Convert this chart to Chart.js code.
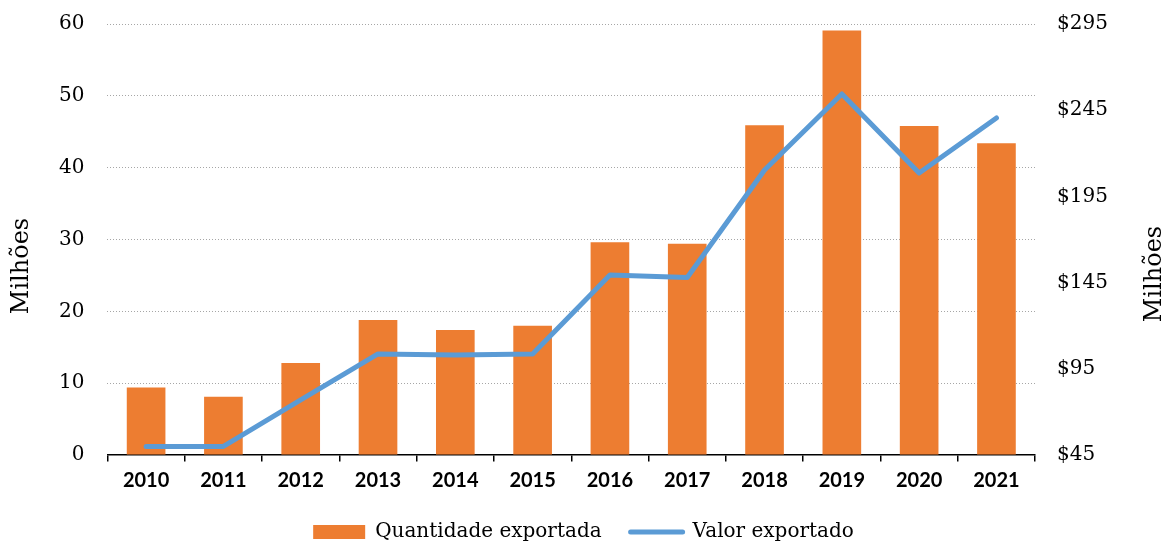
<!DOCTYPE html>
<html>
<head>
<meta charset="utf-8">
<script src="https://cdn.jsdelivr.net/npm/chart.js@4"></script>
<style>
html,body{margin:0;padding:0;background:#fff;overflow:hidden;}
canvas{display:block;}
</style>
</head>
<body>
<canvas id="c" width="1171" height="545"></canvas>
<script>
const categories = ['2010','2011','2012','2013','2014','2015','2016','2017','2018','2019','2020','2021'];
const quantidade = [9.4, 8.1, 12.8, 18.8, 17.4, 18.0, 29.6, 29.4, 45.9, 59.1, 45.8, 43.4];
const valor = [50, 50, 77, 103.6, 103, 103.6, 149.4, 148, 210.3, 254.4, 208.6, 240.5];
const leftTicks = [0, 10, 20, 30, 40, 50, 60];
const rightTicks = [45, 95, 145, 195, 245, 295];
const seriesNames = ['Quantidade exportada', 'Valor exportado'];
const axisTitle = 'Milhões';

const ORANGE = '#ED7D31';
const BLUE = '#5B9BD5';
const SERIF = 'DejaVu Serif';
const CLEAR = 'rgba(0,0,0,0)';

const titlePlugin = {
  id: 'sideTitles',
  afterDraw(chart) {
    const ctx = chart.ctx;
    [[22, 266], [1155, 274]].forEach(([x, y]) => {
      ctx.save();
      ctx.font = '24px "' + SERIF + '"';
      ctx.fillStyle = '#000';
      ctx.textAlign = 'center';
      ctx.textBaseline = 'middle';
      ctx.translate(x, y);
      ctx.rotate(-Math.PI / 2);
      ctx.fillText(axisTitle, 0, 0);
      ctx.restore();
    });
  }
};

new Chart(document.getElementById('c'), {
  data: {
    labels: categories,
    datasets: [
      {
        type: 'bar',
        label: seriesNames[0],
        data: quantidade,
        backgroundColor: ORANGE,
        borderWidth: 0,
        yAxisID: 'y',
        order: 2,
        categoryPercentage: 1.0,
        barPercentage: 0.5
      },
      {
        type: 'line',
        label: seriesNames[1],
        data: valor,
        borderColor: BLUE,
        backgroundColor: BLUE,
        borderWidth: 5,
        borderCapStyle: 'round',
        borderJoinStyle: 'round',
        pointRadius: 0,
        tension: 0,
        yAxisID: 'y1',
        order: 1
      }
    ]
  },
  options: {
    responsive: false,
    animation: false,
    maintainAspectRatio: false,
    devicePixelRatio: 1,
    layout: { padding: { left: 59, right: 63, top: 24, bottom: -7 } },
    plugins: {
      tooltip: { enabled: false },
      legend: {
        position: 'bottom',
        labels: {
          usePointStyle: true,
          pointStyleWidth: 52,
          boxHeight: 14,
          padding: 29,
          color: '#000',
          font: { family: SERIF, size: 20 },
          sort: (a, b) => a.datasetIndex - b.datasetIndex,
          generateLabels(chart) {
            const items = Chart.defaults.plugins.legend.labels.generateLabels(chart);
            items.forEach(it => {
              const ds = chart.data.datasets[it.datasetIndex];
              if (ds.type === 'line') {
                it.pointStyle = 'line';
                it.lineWidth = 5;
                it.strokeStyle = BLUE;
                it.lineCap = 'round';
              } else {
                it.pointStyle = 'rect';
                it.lineWidth = 0;
                it.fillStyle = ORANGE;
              }
            });
            return items;
          }
        }
      }
    },
    scales: {
      x: {
        offset: true,
        grid: {
          offset: true,
          drawOnChartArea: false,
          drawTicks: true,
          tickLength: 14,
          tickColor: '#000',
          tickWidth: 1.5,
          tickBorderDash: [6, 60],
          color: '#000',
          lineWidth: 1.5
        },
        border: { display: true, color: '#000', width: 1.5 },
        ticks: {
          color: '#000',
          padding: 0,
          font: { family: 'Lato', size: 20, weight: 'bold', lineHeight: 1.2 },
          maxRotation: 0
        }
      },
      y: {
        position: 'left',
        min: leftTicks[0],
        max: leftTicks[leftTicks.length - 1],
        afterBuildTicks(scale) { scale.ticks = leftTicks.map(v => ({ value: v })); },
        grid: {
          drawTicks: true,
          tickLength: 23,
          tickColor: CLEAR,
          color: ctx => ctx.tick && ctx.tick.value === 0 ? CLEAR : '#A6A6A6',
          lineWidth: 1
        },
        border: { display: false, dash: [1, 2] },
        ticks: {
          color: '#000',
          padding: 0,
          font: { family: SERIF, size: 20 }
        }
      },
      y1: {
        position: 'right',
        min: rightTicks[0],
        max: rightTicks[rightTicks.length - 1],
        afterBuildTicks(scale) { scale.ticks = rightTicks.map(v => ({ value: v })); },
        grid: { drawOnChartArea: false, drawTicks: true, tickLength: 22, tickColor: CLEAR },
        border: { display: false },
        ticks: {
          color: '#000',
          padding: 0,
          font: { family: SERIF, size: 20 },
          callback: v => '$' + v
        }
      }
    }
  },
  plugins: [titlePlugin]
});
</script>
</body>
</html>
